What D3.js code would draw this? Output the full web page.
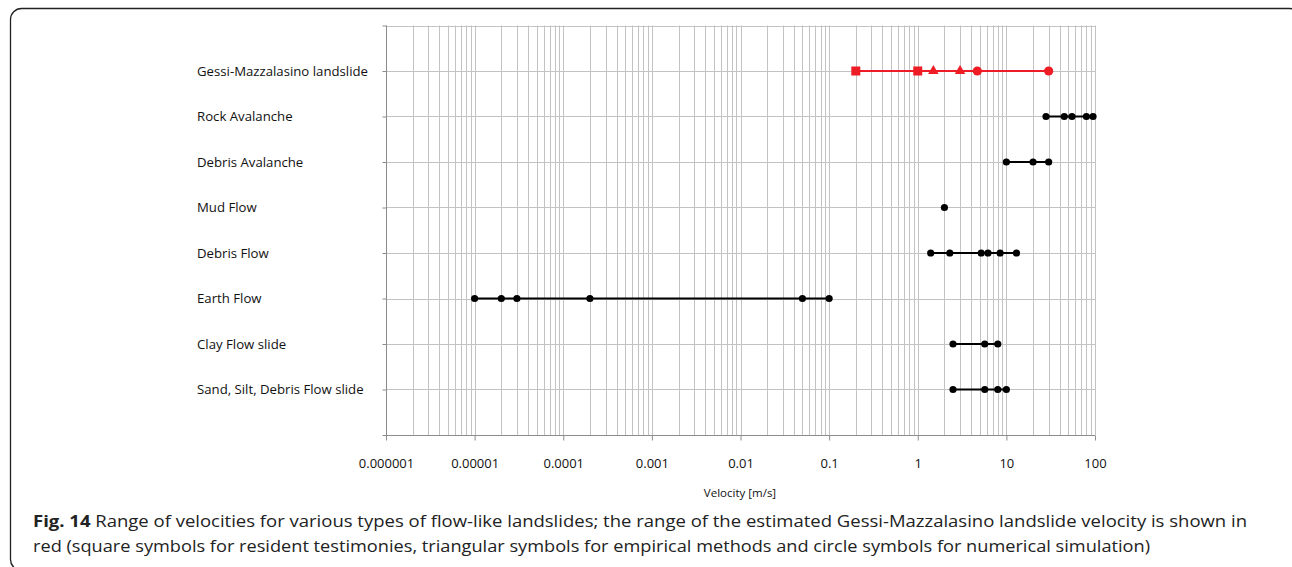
<!DOCTYPE html>
<html>
<head>
<meta charset="utf-8">
<script src="https://cdn.jsdelivr.net/npm/d3@7"></script>
<style>
  body { margin: 0; background: #fff; }
  text { font-family: "Open Sans", "Liberation Sans", sans-serif; }
</style>
</head>
<body>
<svg width="1292" height="567"></svg>
<script>
// categorie, dall'alto verso il basso
const categories = [
  "Gessi-Mazzalasino landslide",
  "Rock Avalanche",
  "Debris Avalanche",
  "Mud Flow",
  "Debris Flow",
  "Earth Flow",
  "Clay Flow slide",
  "Sand, Silt, Debris Flow slide"
];

// velocità [m/s]
const gessiSquares = [0.2, 1];
const gessiTriangles = [1.5, 3];
const gessiCircles = [4.7, 30];
const rockAvalanche = [28, 45, 55, 80, 95];
const debrisAvalanche = [10, 20, 30];
const mudFlow = [2];
const debrisFlow = [1.4, 2.3, 5.2, 6.2, 8.5, 13];
const earthFlow = [0.00001, 0.00002, 0.00003, 0.0002, 0.05, 0.1];
const clayFlow = [2.5, 5.7, 8];
const sandFlow = [2.5, 5.7, 8, 10];

const blackSeries = [rockAvalanche, debrisAvalanche, mudFlow, debrisFlow, earthFlow, clayFlow, sandFlow];

const tickValues = [1e-6, 1e-5, 1e-4, 1e-3, 1e-2, 1e-1, 1, 10, 100];
const tickLabels = ["0.000001", "0.00001", "0.0001", "0.001", "0.01", "0.1", "1", "10", "100"];

const xTitle = "Velocity [m/s]";
const caption1 = "Range of velocities for various types of flow-like landslides; the range of the estimated Gessi-Mazzalasino landslide velocity is shown in";
const caption2 = "red (square symbols for resident testimonies, triangular symbols for empirical methods and circle symbols for numerical simulation)";

const svg = d3.select("svg");
const red = "#ee1c25";

// cornice arrotondata
svg.append("rect")
  .attr("x", 10.5).attr("y", 8.5)
  .attr("width", 1290).attr("height", 562)
  .attr("rx", 11)
  .attr("fill", "none").attr("stroke", "#222").attr("stroke-width", 1.3);

const x = d3.scaleLog().domain([1e-6, 100]).range([386, 1095]);
const y = d3.scaleLinear().domain([0, 9]).range([435, 25.5]);
const rowY = i => y(8 - i);

// griglia verticale (maggiori e minori)
const gridVals = [];
for (let e = -6; e <= 1; e++) {
  for (let m = 1; m <= 9; m++) gridVals.push(m * Math.pow(10, e));
}
gridVals.push(100);

const g = svg.append("g");
g.selectAll("line.vg")
  .data(gridVals.filter(v => v > 1e-6))
  .join("line")
  .attr("class", "vg")
  .attr("x1", d => Math.round(x(d)) + 0.5).attr("x2", d => Math.round(x(d)) + 0.5)
  .attr("y1", y(9)).attr("y2", y(0))
  .attr("stroke", "#c3c3c3").attr("stroke-width", 1);

// griglia orizzontale
g.selectAll("line.hg")
  .data(d3.range(1, 10))
  .join("line")
  .attr("class", "hg")
  .attr("x1", x(1e-6)).attr("x2", x(100))
  .attr("y1", d => Math.round(y(d)) + 0.5).attr("y2", d => Math.round(y(d)) + 0.5)
  .attr("stroke", "#c3c3c3").attr("stroke-width", 1);

// asse y
const yAxis = svg.append("g")
  .attr("transform", `translate(${Math.round(x(1e-6)) + 0.5},0)`)
  .call(d3.axisLeft(y).tickValues(d3.range(0, 10)).tickSize(4).tickFormat(""));
yAxis.selectAll("line, path").attr("stroke", "#8c8c8c");
yAxis.select("path").attr("d", `M0,${y(9)}V${y(0)}`);

// asse x
const xAxis = svg.append("g")
  .attr("transform", `translate(0,${Math.round(y(0)) + 0.5})`)
  .call(d3.axisBottom(x).tickValues(tickValues).tickSize(5)
    .tickFormat((d, i) => tickLabels[i]));
xAxis.selectAll("line, path").attr("stroke", "#8c8c8c");
xAxis.select("path").attr("d", `M${x(1e-6)},0H${x(100)}`);
xAxis.selectAll("text")
  .attr("dy", null).attr("y", 32)
  .attr("font-size", 13).attr("fill", "#111")
  .style("font-family", '"Open Sans", sans-serif');

svg.append("text")
  .attr("x", 740).attr("y", 497)
  .attr("text-anchor", "middle")
  .attr("font-size", 11.5).attr("fill", "#111")
  .text(xTitle);

// etichette categorie
svg.append("g").selectAll("text")
  .data(categories)
  .join("text")
  .attr("x", 197).attr("y", (d, i) => rowY(i) + 4.5)
  .attr("font-size", 13.2).attr("fill", "#111")
  .text(d => d);

// serie nere
blackSeries.forEach((vals, k) => {
  const cy = rowY(k + 1);
  svg.append("line")
    .attr("x1", x(d3.min(vals))).attr("x2", x(d3.max(vals)))
    .attr("y1", cy).attr("y2", cy)
    .attr("stroke", "#000").attr("stroke-width", 1.8);
  svg.append("g").selectAll("circle")
    .data(vals)
    .join("circle")
    .attr("cx", d => x(d)).attr("cy", cy).attr("r", 3.6)
    .attr("fill", "#000");
});

// serie rossa
const gy = rowY(0);
const allRed = gessiSquares.concat(gessiTriangles, gessiCircles);
svg.append("line")
  .attr("x1", x(d3.min(allRed))).attr("x2", x(d3.max(allRed)))
  .attr("y1", gy).attr("y2", gy)
  .attr("stroke", red).attr("stroke-width", 1.8);
svg.append("g").selectAll("rect")
  .data(gessiSquares)
  .join("rect")
  .attr("x", d => x(d) - 4.5).attr("y", gy - 4.5)
  .attr("width", 9).attr("height", 9)
  .attr("fill", red);
svg.append("g").selectAll("path")
  .data(gessiTriangles)
  .join("path")
  .attr("transform", d => `translate(${x(d)},${gy})`)
  .attr("d", d3.symbol(d3.symbolTriangle, 48))
  .attr("fill", red);
svg.append("g").selectAll("circle")
  .data(gessiCircles)
  .join("circle")
  .attr("cx", d => x(d)).attr("cy", gy).attr("r", 4.6)
  .attr("fill", red);

// didascalia
const c1 = svg.append("text")
  .attr("x", 33).attr("y", 527)
  .attr("font-size", 16).attr("fill", "#222")
  .attr("textLength", 1214).attr("lengthAdjust", "spacingAndGlyphs");
c1.append("tspan").attr("font-weight", "bold").text("Fig. 14");
c1.append("tspan").text(" " + caption1);

svg.append("text")
  .attr("x", 33).attr("y", 552)
  .attr("font-size", 16).attr("fill", "#222")
  .attr("textLength", 1117).attr("lengthAdjust", "spacingAndGlyphs")
  .text(caption2);
</script>
</body>
</html>
